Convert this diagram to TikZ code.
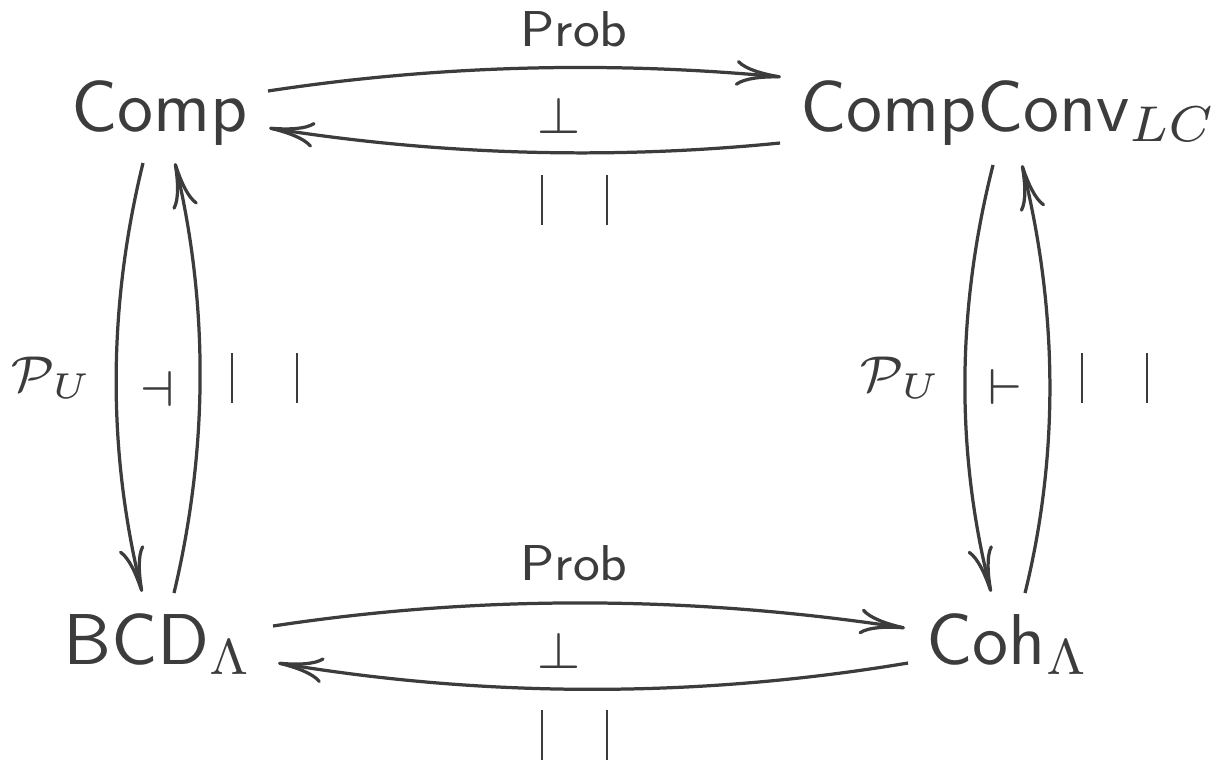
\documentclass[tikz,border=0pt]{standalone}
\usetikzlibrary{arrows.meta}
\definecolor{ink}{RGB}{60,60,60}
\begin{document}
\begin{tikzpicture}[x=0.13889pt,y=-0.13889pt,line width=0.45pt,
  every node/.style={inner sep=0pt,text=ink},
  obj/.style={font=\fontsize{10}{12}\selectfont\sffamily,anchor=base},
  lab/.style={font=\fontsize{7}{8}\selectfont},
  arr/.style={draw=ink,-{Computer Modern Rightarrow[length=6.3pt,width=3.6pt]}},
  bar/.style={draw=ink,line width=0.4pt}]
\useasboundingbox (0,0) rectangle (1216,759);
% objects
\node[obj] (comp) at (160,131) {Comp};
\node[obj] (cc) at (1009,131) {CompConv$_{LC}$};
\node[obj] (bcd) at (158,664) {BCD$_\Lambda$};
\node[obj] (coh) at (1008,664) {Coh$_\Lambda$};
% top row
\draw[arr] ([shift={(108,-40)}]comp.base) .. controls +(171,-26) and +(-171,-16) .. ([shift={(-228,-54)}]cc.base);
\draw[arr] ([shift={(-229,12)}]cc.base) .. controls +(-170,17) and +(170,27) .. ([shift={(109,-3)}]comp.base);
\node[lab,anchor=base] (p1) at (574,47) {\sffamily Prob};
\node[lab] (b1) at (559,116) {$\perp$};
\draw[bar] (542,175) -- (542,225) (607,175) -- (607,225);
% left column
\draw[arr] ([shift={(-17,32)}]comp.base) .. controls +(-35,143) and +(-35,-143) .. ([shift={(-16,-72)}]bcd.base);
\draw[arr] ([shift={(16,-71)}]bcd.base) .. controls +(34,-143) and +(34,143) .. ([shift={(15,32)}]comp.base);
\node[lab] (pu1) at (52,378) {$\mathcal{P}_U$};
\node[lab] (d1) at (157,389) {$\dashv$};
\draw[bar] (232,353) -- (232,403) (297,353) -- (297,403);
% right column
\draw[arr] ([shift={(-16,34)}]cc.base) .. controls +(-36,142) and +(-36,-142) .. ([shift={(-17,-72)}]coh.base);
\draw[arr] ([shift={(17,-71)}]coh.base) .. controls +(35,-142) and +(35,142) .. ([shift={(13,34)}]cc.base);
\node[lab] (pu2) at (901,378) {$\mathcal{P}_U$};
\node[lab] (d2) at (1005,387) {$\vdash$};
\draw[bar] (1082,353) -- (1082,403) (1147,353) -- (1147,403);
% bottom row
\draw[arr] ([shift={(115,-38)}]bcd.base) .. controls +(211,-32) and +(-211,-32) .. ([shift={(-103,-36)}]coh.base);
\draw[arr] ([shift={(-100,-1)}]coh.base) .. controls +(-210,35) and +(210,35) .. ([shift={(120,-1)}]bcd.base);
\node[lab,anchor=base] (p2) at (574,580) {\sffamily Prob};
\node[lab] (b2) at (559,651) {$\perp$};
\draw[bar] (542,710) -- (542,760) (607,710) -- (607,760);
\end{tikzpicture}
\end{document}
